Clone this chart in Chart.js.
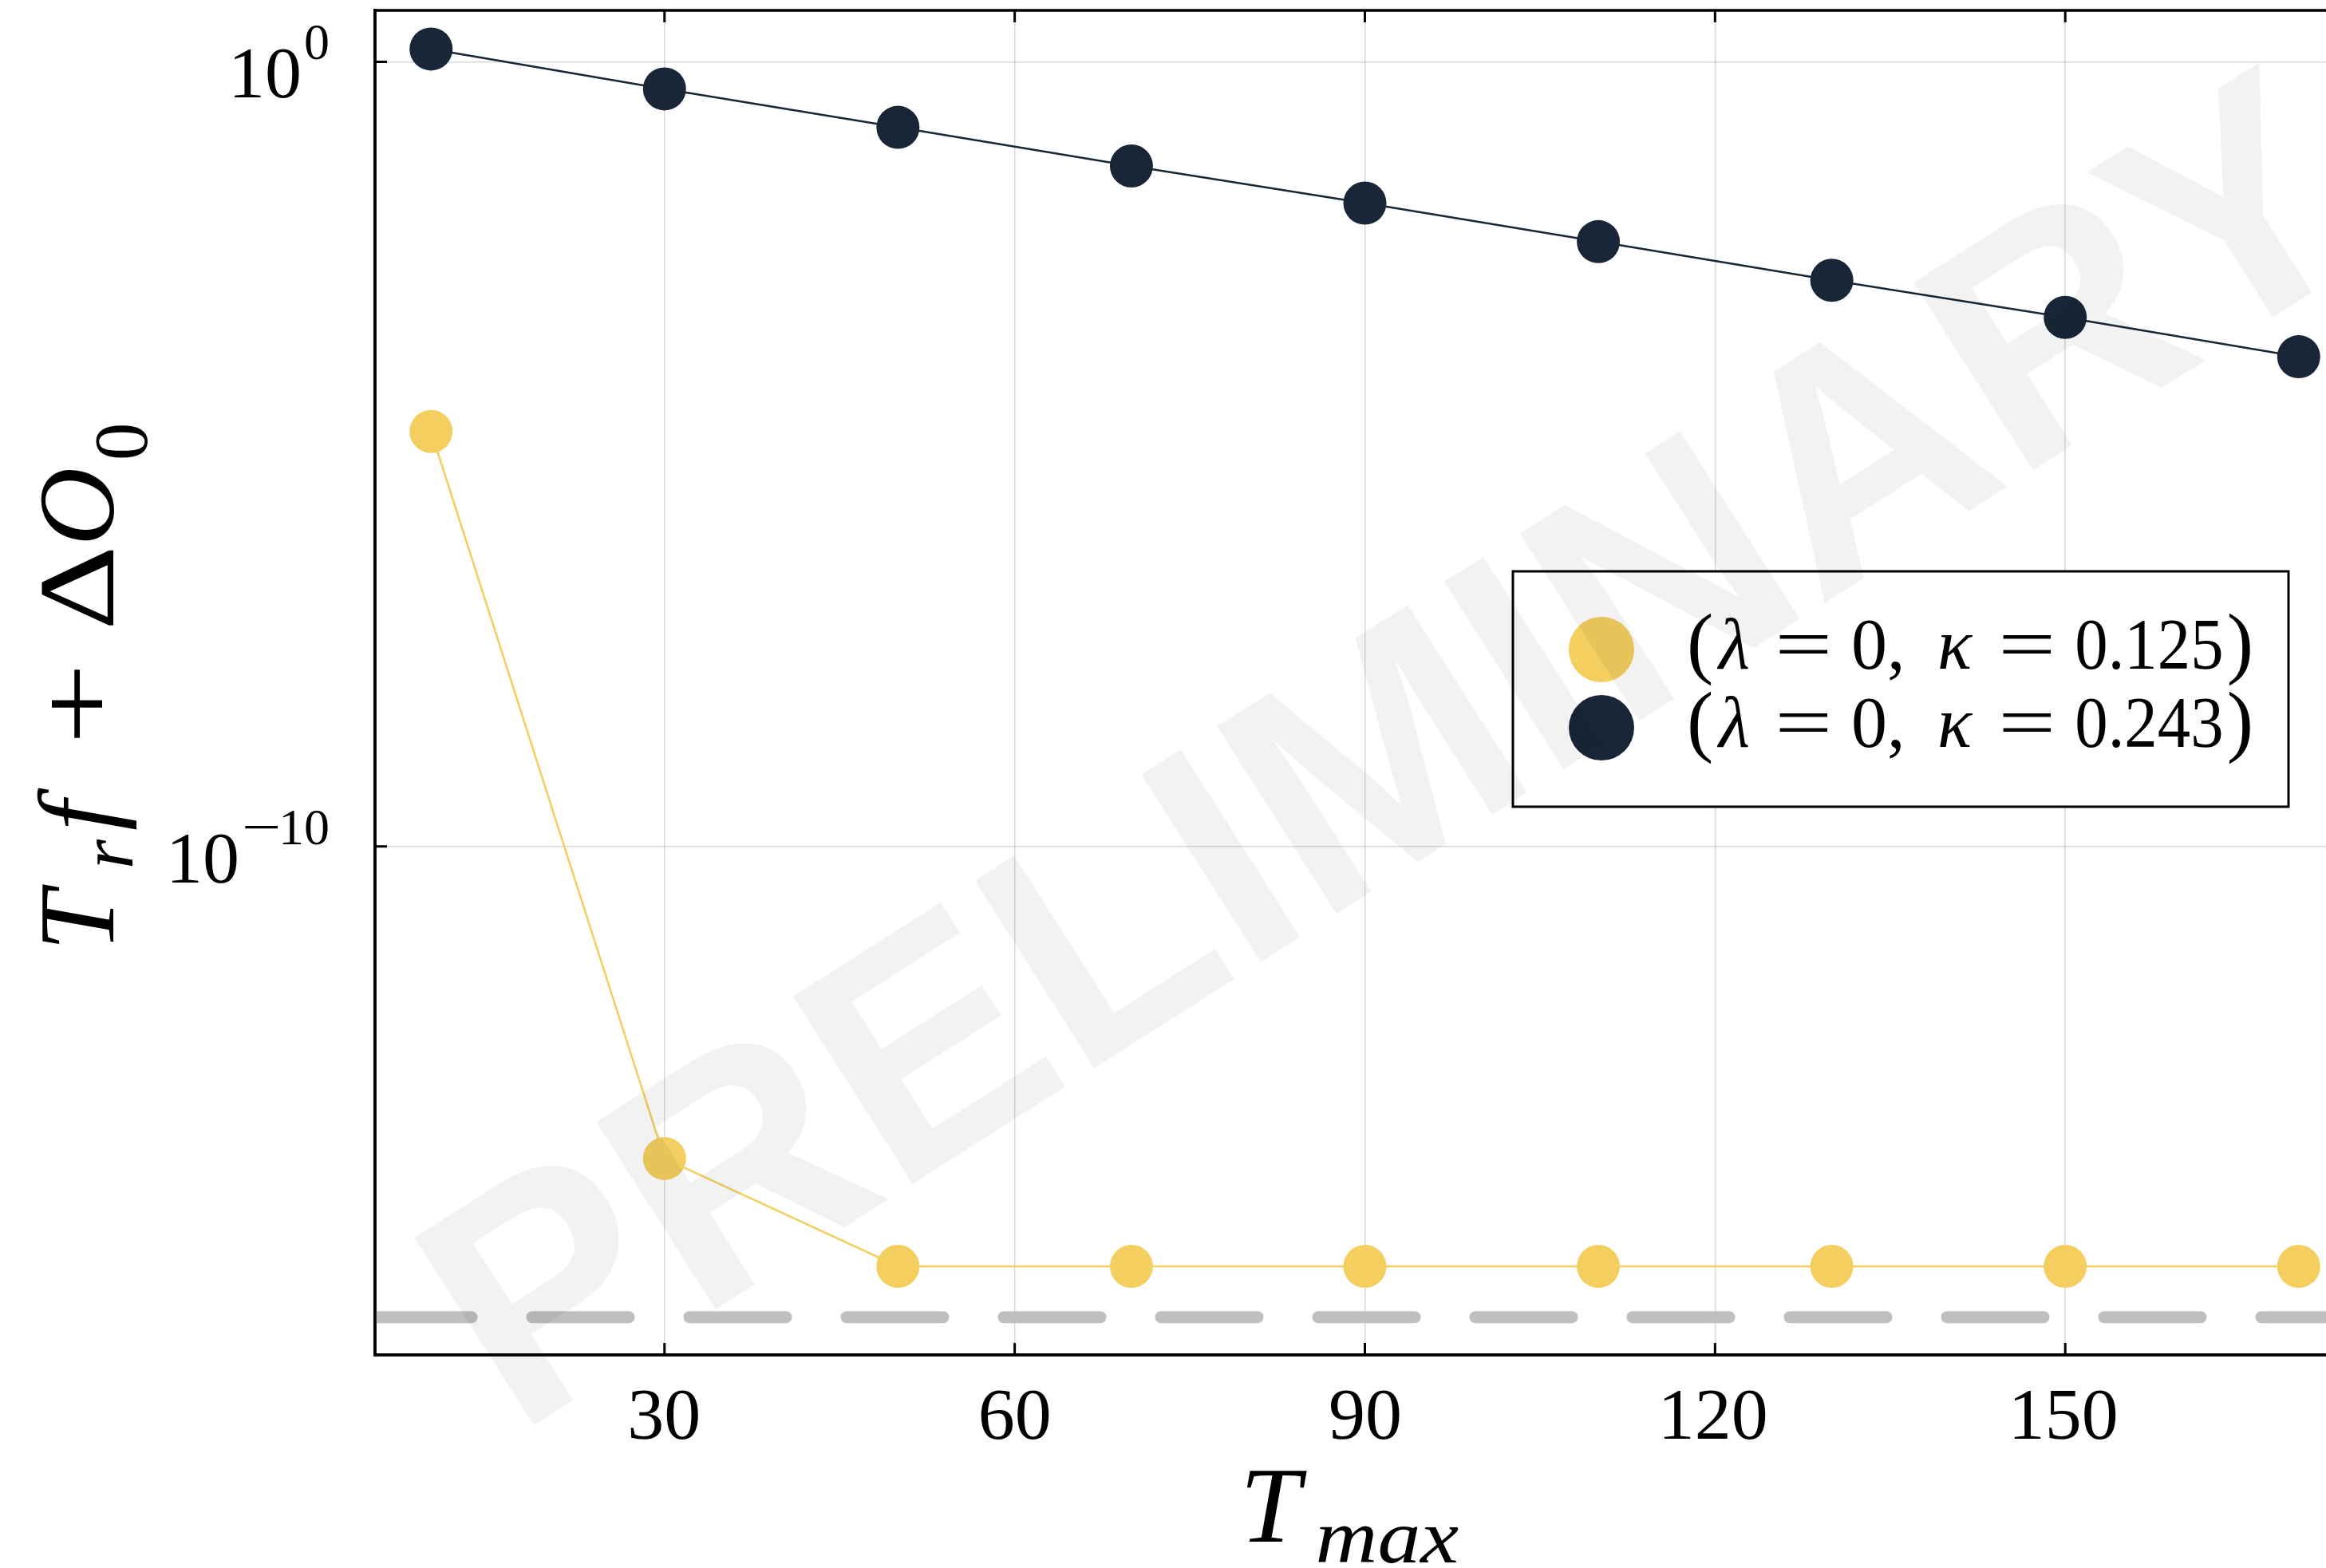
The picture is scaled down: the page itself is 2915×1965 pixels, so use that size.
<!DOCTYPE html>
<html>
<head>
<meta charset="utf-8">
<script src="https://cdn.jsdelivr.net/npm/chart.js@4.4.1/dist/chart.umd.min.js"></script>
<style>
  html, body { margin: 0; padding: 0; background: #fff; overflow: hidden; }
  #wrap { width: 2915px; height: 1965px; overflow: hidden; }
  canvas { display: block; }
</style>
</head>
<body>
<div id="wrap"><canvas id="convChart" width="2960" height="1965"></canvas></div>
<script>
// residual vs. T_max for the two kappa runs
const tMax = [10, 30, 50, 70, 90, 110, 130, 150, 170];
const residualK125 = [1.94e-5, 1.05e-14, 4.44e-16, 4.44e-16, 4.44e-16, 4.44e-16, 4.44e-16, 4.44e-16, 4.44e-16];
const residualK243 = [1.455, 0.451, 0.146, 0.047, 0.0158, 0.0051, 0.00164, 0.000553, 0.000174];
const precisionFloor = 1e-16;
const seriesLabels = ['(λ = 0,  κ = 0.125)', '(λ = 0,  κ = 0.243)'];
const xTickValues = [30, 60, 90, 120, 150];
const yTickExponents = [-10, 0];
const xLimits = [5.2, 174.8];
const yLimits = [3.3e-17, 4.52];

const YELLOW = '#f4cf5f';
const NAVY = '#192637';
const SERIF = '"Liberation Serif", "DejaVu Serif", serif';

function toPoints(values) {
    return tMax.map((t, i) => ({ x: t, y: values[i] }));
}

// draw one piece of text with its ink box starting at `left`; optional stretch to width w or factor sx
function drawToken(ctx, tok, left, baseY) {
    ctx.font = tok.font;
    const m = ctx.measureText(tok.text);
    const inkW = m.actualBoundingBoxLeft + m.actualBoundingBoxRight;
    const sx = tok.w ? tok.w / inkW : (tok.sx || 1);
    ctx.save();
    ctx.translate(left, baseY + (tok.dy || 0));
    ctx.scale(sx, 1);
    ctx.fillText(tok.text, m.actualBoundingBoxLeft, 0);
    ctx.restore();
    return left + inkW * sx;
}

// tokens carry `at` (ink offset from x0) or `gap` (after previous token)
function drawRuns(ctx, runs, x0, y0) {
    let cursor = x0;
    for (const r of runs) {
        const left = r.at !== undefined ? x0 + r.at : cursor + (r.gap || 0);
        cursor = drawToken(ctx, r, left, y0);
    }
    return cursor;
}

const framePlugin = {
    id: 'framePlugin',
    afterDraw(chart) {
        const ctx = chart.ctx;
        const area = chart.chartArea;
        const xs = chart.scales.x, ys = chart.scales.y;
        ctx.save();
        ctx.fillStyle = '#000';
        ctx.textAlign = 'left';
        ctx.textBaseline = 'alphabetic';

        // box frame + inward ticks
        ctx.strokeStyle = '#000';
        ctx.lineWidth = 3.5;
        ctx.strokeRect(area.left, area.top, area.right - area.left, area.bottom - area.top);
        ctx.lineWidth = 3;
        const tl = 15;
        ctx.beginPath();
        for (const t of xs.ticks) {
            const px = xs.getPixelForValue(t.value);
            ctx.moveTo(px, area.bottom); ctx.lineTo(px, area.bottom - tl);
            ctx.moveTo(px, area.top); ctx.lineTo(px, area.top + tl);
        }
        for (const t of ys.ticks) {
            const py = ys.getPixelForValue(t.value);
            ctx.moveTo(area.left, py); ctx.lineTo(area.left + tl, py);
            ctx.moveTo(area.right, py); ctx.lineTo(area.right - tl, py);
        }
        ctx.stroke();

        // x tick labels
        const tickFont = '92px ' + SERIF;
        ctx.font = tickFont;
        for (const t of xs.ticks) {
            const px = xs.getPixelForValue(t.value);
            const m = ctx.measureText(String(t.value));
            const w = m.actualBoundingBoxLeft + m.actualBoundingBoxRight;
            drawToken(ctx, { text: String(t.value), font: tickFont }, px - w / 2, area.bottom + 105);
        }

        // y tick labels as 10^n
        for (const t of ys.ticks) {
            const py = ys.getPixelForValue(t.value);
            const e = Math.round(Math.log10(t.value));
            const supFont = '64px ' + SERIF;
            const gap = e < 0 ? 10 : 8;
            const supTok = e < 0
                ? [{ text: '\u2212', font: supFont, w: 41, dy: -48 }, { text: String(-e), font: supFont, gap: 6, dy: -48 }]
                : [{ text: String(e), font: supFont, dy: -48 }];
            ctx.font = tickFont;
            const mb = ctx.measureText('10');
            let total = mb.actualBoundingBoxLeft + mb.actualBoundingBoxRight + gap;
            supTok.forEach((s, k) => {
                ctx.font = s.font;
                const m = ctx.measureText(s.text);
                total += (s.w || (m.actualBoundingBoxLeft + m.actualBoundingBoxRight)) + (k ? s.gap : 0);
            });
            const left = area.left - 59 - total;
            const runs = [{ text: '10', font: tickFont }].concat(supTok.map((s, k) => Object.assign({}, s, { gap: k ? s.gap : gap })));
            drawRuns(ctx, runs, left, py + 45);
        }

        // axis titles
        const it136 = 'italic 136px ' + SERIF;
        const it95 = 'italic 95px ' + SERIF;
        const up136 = '136px ' + SERIF;
        const up95 = '95px ' + SERIF;
        drawRuns(ctx, [
            { text: 'T', font: it136 },
            { text: 'max', font: it95, gap: 14, w: 176, dy: 26 }
        ], 1562, 1932);

        ctx.save();
        ctx.translate(142, 1190);
        ctx.rotate(-Math.PI / 2);
        drawRuns(ctx, [
            { text: 'T', font: it136, at: 6 },
            { text: 'r', font: it95, at: 104, dy: 24 },
            { text: 'f', font: it136, at: 150 },
            { text: '+', font: up136, at: 264, w: 88 },
            { text: 'Δ', font: up136, at: 406, w: 95 },
            { text: 'O', font: it136, at: 512 },
            { text: '0', font: up95, at: 616, dy: 42 }
        ], 0, 0);
        ctx.restore();

        // legend box
        const lg = { x: 1896, y: 716, w: 972, h: 295 };
        ctx.fillStyle = '#fff';
        ctx.fillRect(lg.x, lg.y, lg.w, lg.h);
        ctx.strokeStyle = '#000';
        ctx.lineWidth = 3;
        ctx.strokeRect(lg.x, lg.y, lg.w, lg.h);
        const tokenAt = [0, 33, 112, 205, 313, 392, 485, undefined];
        chart.data.datasets.forEach((ds, i) => {
            if (!ds.label) return;
            const cy = 814 + i * 98;
            ctx.fillStyle = ds.backgroundColor;
            ctx.beginPath();
            ctx.arc(2007, cy, 41, 0, Math.PI * 2);
            ctx.fill();
            ctx.fillStyle = '#000';
            const tokens = ds.label.match(/\(|\)|[λκ]|=|[0-9.,]+/g);
            const runs = tokens.map((tk, k) => ({
                text: tk,
                font: (/[λκ]/.test(tk) ? 'italic ' : '') + (/[()]/.test(tk) ? '100px ' : '90px ') + SERIF,
                at: tokenAt[k],
                gap: 10,
                w: tk === '=' ? 61 : undefined,
                sx: /\d\.\d/.test(tk) ? 0.92 : 1
            }));
            drawRuns(ctx, runs, 2118, cy + 24);
        });

        // watermark over everything
        ctx.save();
        ctx.translate(1740, 935);
        ctx.rotate(-32.5 * Math.PI / 180);
        ctx.font = 'bold 405px "Liberation Sans", "DejaVu Sans", sans-serif';
        ctx.fillStyle = 'rgba(0,0,0,0.051)';
        ctx.textAlign = 'center';
        const cap = ctx.measureText('P').actualBoundingBoxAscent;
        ctx.fillText('PRELIMINARY', 0, cap / 2);
        ctx.restore();

        ctx.restore();
    }
};

const gridOpts = { color: 'rgba(0,0,0,0.15)', lineWidth: 1.5, drawTicks: false };

new Chart(document.getElementById('convChart'), {
    type: 'line',
    data: {
        datasets: [
            {
                label: seriesLabels[0],
                data: toPoints(residualK125),
                borderColor: YELLOW, backgroundColor: YELLOW,
                borderWidth: 2.5, pointRadius: 27, pointHoverRadius: 27, pointBorderWidth: 0
            },
            {
                label: seriesLabels[1],
                data: toPoints(residualK243),
                borderColor: NAVY, backgroundColor: NAVY,
                borderWidth: 2.5, pointRadius: 27, pointHoverRadius: 27, pointBorderWidth: 0
            },
            {
                label: '',
                data: [{ x: xLimits[0], y: precisionFloor }, { x: xLimits[1], y: precisionFloor }],
                borderColor: '#bfbfbf', backgroundColor: '#bfbfbf',
                borderWidth: 15, borderDash: [121, 76], borderCapStyle: 'round',
                pointRadius: 0, pointHoverRadius: 0
            }
        ]
    },
    options: {
        responsive: false,
        animation: false,
        devicePixelRatio: 1,
        layout: { autoPadding: false, padding: { top: 13, right: 9, left: 0, bottom: 0 } },
        plugins: { legend: { display: false }, tooltip: { enabled: false } },
        scales: {
            x: {
                type: 'linear', min: xLimits[0], max: xLimits[1],
                afterBuildTicks: s => { s.ticks = xTickValues.map(v => ({ value: v })); },
                afterFit: s => { s.height = 267; },
                ticks: { display: false },
                grid: gridOpts,
                border: { display: true, color: '#000', width: 3.5 }
            },
            y: {
                type: 'logarithmic', min: yLimits[0], max: yLimits[1],
                afterBuildTicks: s => { s.ticks = yTickExponents.map(e => ({ value: Math.pow(10, e) })); },
                afterFit: s => { s.width = 470; },
                ticks: { display: false },
                grid: gridOpts,
                border: { display: true, color: '#000', width: 3.5 }
            }
        }
    },
    plugins: [framePlugin]
});
</script>
</body>
</html>
